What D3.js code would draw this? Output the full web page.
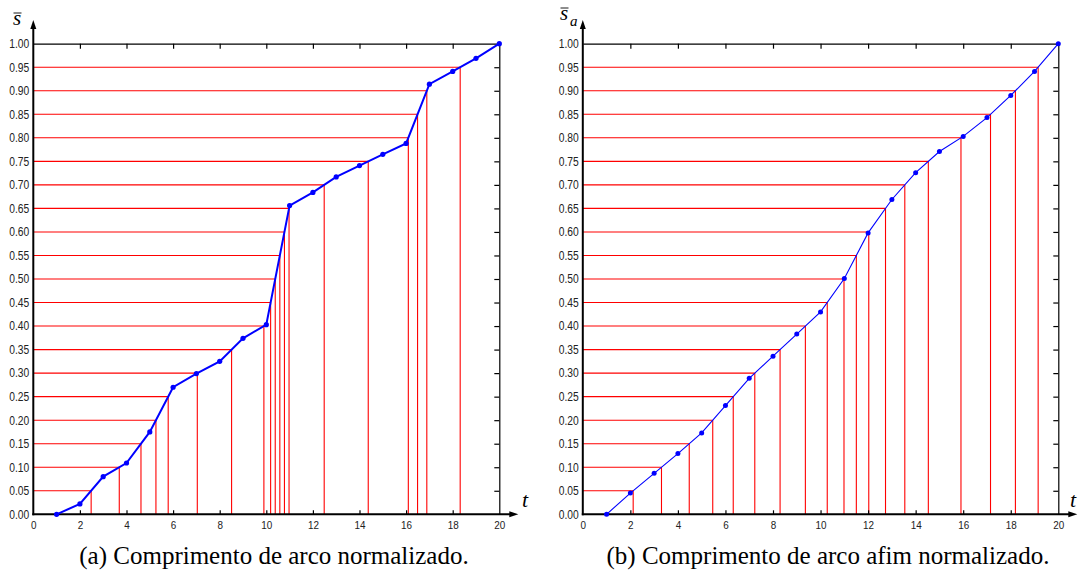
<!DOCTYPE html>
<html>
<head>
<meta charset="utf-8">
<script src="https://cdn.jsdelivr.net/npm/d3@7"></script>
<style>
  body { margin: 0; background: #fff; }
  svg { display: block; }
</style>
</head>
<body>
<svg id="chart" width="1081" height="580"></svg>
<script>
// sample instants t = 1..20
const tSamples = [1, 2, 3, 4, 5, 6, 7, 8, 9, 10, 11, 12, 13, 14, 15, 16, 17, 18, 19, 20];

// (a) normalized arc length
const arcLength = [0.000, 0.022, 0.080, 0.109, 0.175, 0.270, 0.299, 0.325, 0.374, 0.403,
                   0.656, 0.684, 0.717, 0.741, 0.765, 0.788, 0.914, 0.941, 0.969, 1.000];

// (b) normalized affine arc length
const affineArcLength = [0.000, 0.045, 0.087, 0.129, 0.173, 0.231, 0.289, 0.336, 0.383, 0.430,
                         0.501, 0.598, 0.669, 0.726, 0.771, 0.803, 0.843, 0.890, 0.941, 1.000];

// uniform resampling levels (red lines)
const levels = [0.05, 0.10, 0.15, 0.20, 0.25, 0.30, 0.35, 0.40, 0.45, 0.50,
                0.55, 0.60, 0.65, 0.70, 0.75, 0.80, 0.85, 0.90, 0.95];

const yTicks = [0, 0.05, 0.10, 0.15, 0.20, 0.25, 0.30, 0.35, 0.40, 0.45, 0.50,
                0.55, 0.60, 0.65, 0.70, 0.75, 0.80, 0.85, 0.90, 0.95, 1.00];
const xTicks = [0, 2, 4, 6, 8, 10, 12, 14, 16, 18, 20];
const xInnerTicks = [2, 4, 6, 8, 10, 12, 14, 16, 18];

const captions = ["(a) Comprimento de arco normalizado.", "(b) Comprimento de arco afim normalizado."];

const svg = d3.select("#chart");

// t where the polyline first reaches a given level
function crossing(ts, ss, level) {
  for (let i = 0; i < ss.length - 1; i++) {
    if (ss[i] <= level && level <= ss[i + 1]) {
      return ts[i] + (level - ss[i]) / (ss[i + 1] - ss[i]) * (ts[i + 1] - ts[i]);
    }
  }
  return ts[ts.length - 1];
}

function drawPanel(opts) {
  const x = d3.scaleLinear().domain([0, 20]).range([opts.left, opts.right]);
  const y = d3.scaleLinear().domain([0, 1]).range([514.3, 43.7]);
  const g = svg.append("g");

  // red construction lines
  const red = g.append("g").attr("stroke", "#ff0000").attr("stroke-width", 1.1).attr("fill", "none");
  levels.forEach(lv => {
    const tc = crossing(tSamples, opts.values, lv);
    red.append("line").attr("x1", x(0)).attr("x2", x(tc)).attr("y1", y(lv)).attr("y2", y(lv));
    red.append("line").attr("x1", x(tc)).attr("x2", x(tc)).attr("y1", y(lv)).attr("y2", y(0));
  });

  // frame: top and right with inward ticks
  g.append("g")
    .attr("transform", `translate(0,${y(1)})`)
    .call(d3.axisTop(x).tickValues(xInnerTicks).tickSize(-5).tickSizeOuter(0).tickFormat(""))
    .call(a => a.selectAll("path,line").attr("stroke", "#000").attr("stroke-width", 1.2));
  g.append("g")
    .attr("transform", `translate(${x(20)},0)`)
    .call(d3.axisRight(y).tickValues(levels).tickSize(-5).tickSizeOuter(0).tickFormat(""))
    .call(a => a.selectAll("path,line").attr("stroke", "#000").attr("stroke-width", 1.2));

  // bottom axis
  const bx = g.append("g")
    .attr("transform", `translate(0,${y(0)})`)
    .call(d3.axisBottom(x).tickValues(xTicks).tickSize(0).tickPadding(8).tickSizeOuter(0).tickFormat(d3.format("d")));
  bx.select(".domain").remove();
  bx.selectAll("text").attr("font-family", "'Liberation Sans', Arial, sans-serif")
    .attr("font-size", "10px").attr("fill", "#222")
    .attr("textLength", d => d < 10 ? 5.5 : 11).attr("lengthAdjust", "spacingAndGlyphs");
  g.append("g")
    .attr("transform", `translate(0,${y(0)})`)
    .call(d3.axisBottom(x).tickValues(xInnerTicks).tickSize(-4).tickSizeOuter(0).tickFormat(""))
    .call(a => a.select(".domain").remove())
    .call(a => a.selectAll("line").attr("stroke", "#000").attr("stroke-width", 1.2));

  // left axis labels
  const ly = g.append("g")
    .attr("transform", `translate(${x(0)},0)`)
    .call(d3.axisLeft(y).tickValues(yTicks).tickSize(0).tickPadding(4).tickFormat(d3.format(".2f")));
  ly.select(".domain").remove();
  ly.selectAll("text").attr("font-family", "'Liberation Sans', Arial, sans-serif")
    .attr("font-size", "12px").attr("fill", "#222")
    .attr("textLength", 20).attr("lengthAdjust", "spacingAndGlyphs");

  // main axes with arrows
  g.append("line").attr("x1", x(0)).attr("x2", x(0)).attr("y1", y(0) + 1).attr("y2", 27)
    .attr("stroke", "#000").attr("stroke-width", 2);
  g.append("path").attr("d", `M${x(0) - 3},29 L${x(0)},20 L${x(0) + 3},29 Z`).attr("fill", "#000");
  g.append("line").attr("x1", x(0) - 1).attr("x2", x(20) + 12).attr("y1", y(0)).attr("y2", y(0))
    .attr("stroke", "#000").attr("stroke-width", 2);
  g.append("path").attr("d", `M${x(20) + 10},${y(0) - 3} L${x(20) + 19},${y(0)} L${x(20) + 10},${y(0) + 3} Z`).attr("fill", "#000");

  // blue polyline and samples
  const pts = tSamples.map((t, i) => [t, opts.values[i]]);
  g.append("path")
    .datum(pts)
    .attr("fill", "none")
    .attr("stroke", "#0000ff")
    .attr("stroke-width", opts.lineWidth)
    .attr("d", d3.line().x(d => x(d[0])).y(d => y(d[1])));
  g.append("g").selectAll("circle").data(pts).join("circle")
    .attr("cx", d => x(d[0])).attr("cy", d => y(d[1])).attr("r", opts.dotR)
    .attr("fill", "#0000ff");

  // axis titles
  const serif = "'Liberation Serif', 'Times New Roman', serif";
  g.append("text").attr("x", opts.sx).attr("y", opts.sy)
    .attr("font-family", serif).attr("font-style", "italic").attr("font-size", "21px").text("s");
  g.append("line").attr("x1", opts.sx + 0.5).attr("x2", opts.sx + 8.5)
    .attr("y1", opts.sy - 12).attr("y2", opts.sy - 12).attr("stroke", "#000").attr("stroke-width", 0.9);
  if (opts.sub) {
    g.append("text").attr("x", opts.sx + 10).attr("y", opts.sy + 6)
      .attr("font-family", serif).attr("font-style", "italic").attr("font-size", "15px").text(opts.sub);
  }
  g.append("text").attr("x", opts.tx).attr("y", 507)
    .attr("font-family", serif).attr("font-style", "italic").attr("font-size", "22px").text("t");

  // caption
  svg.append("text").attr("x", opts.capX).attr("y", 564).attr("text-anchor", "middle")
    .attr("font-family", serif).attr("font-size", "25px").text(opts.caption);
}

drawPanel({ left: 33.3, right: 499.3, values: arcLength, lineWidth: 2, dotR: 2.6,
            sx: 13, sy: 25, sub: null, tx: 522, capX: 274, caption: captions[0] });
drawPanel({ left: 582.8, right: 1058.3, values: affineArcLength, lineWidth: 1.1, dotR: 2.5,
            sx: 560, sy: 20, sub: "a", tx: 1070, capX: 828, caption: captions[1] });
</script>
</body>
</html>
